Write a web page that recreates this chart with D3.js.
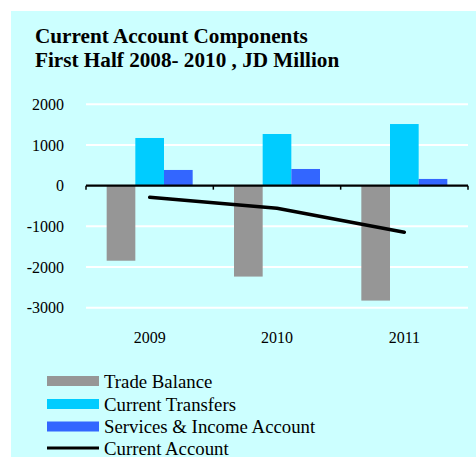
<!DOCTYPE html>
<html>
<head>
<meta charset="utf-8">
<script src="https://cdn.jsdelivr.net/npm/d3@7"></script>
<style>
  body { margin: 0; background: #fff; }
  svg text { font-family: "Liberation Serif", "Times New Roman", serif; }
</style>
</head>
<body>
<svg id="chart"></svg>
<script>
const years = ["2009", "2010", "2011"];
const tradeBalance = [-1845, -2235, -2825];
const currentTransfers = [1172, 1270, 1515];
const servicesIncome = [386, 410, 165];
const currentAccount = [-287, -555, -1145];
const yTicks = [2000, 1000, 0, -1000, -2000, -3000];

const seriesNames = ["Trade Balance", "Current Transfers", "Services & Income Account"];
const seriesColors = ["#969696", "#00CCFF", "#3366FF"];
const barSeries = [tradeBalance, currentTransfers, servicesIncome];

function drawChart(){
    const width = 476, height = 457;
    const svg = d3.select("#chart").attr("width", width).attr("height", height);
    svg.selectAll("*").remove();

    svg.append("rect")
        .attr("x", 11).attr("y", 11)
        .attr("width", width - 11).attr("height", height - 11)
        .attr("fill", "#CCFFFF");

    // title
    const title = svg.append("text")
        .attr("font-size", 21.2).attr("font-weight", "bold");
    title.append("tspan").attr("x", 35).attr("y", 43).text("Current Account Components");
    title.append("tspan").attr("x", 35).attr("y", 67).text("First Half 2008- 2010 , JD Million");

    const x = d3.scaleBand().domain(years).range([86, 468]);
    const y = d3.scaleLinear().domain([-3000, 2000]).range([307.7, 104.3]);
    const inner = d3.scaleBand().domain(d3.range(3)).range([0, 86]).padding(0);
    const groupOffset = (x.bandwidth() - 86) / 2;

    // gridlines
    svg.append("g")
        .selectAll("line")
        .data(yTicks.filter(d => d !== 0))
        .join("line")
        .attr("x1", 86).attr("x2", 468)
        .attr("y1", d => y(d)).attr("y2", d => y(d))
        .attr("stroke", "#fff").attr("stroke-width", 2);

    // y labels
    svg.append("g")
        .selectAll("text")
        .data(yTicks)
        .join("text")
        .attr("x", 64).attr("y", d => y(d))
        .attr("dy", "0.35em")
        .attr("text-anchor", "end")
        .attr("font-size", 16)
        .text(d => d);

    // bars
    svg.append("g")
        .selectAll("g")
        .data(barSeries)
        .join("g")
        .attr("fill", (d, i) => seriesColors[i])
        .each(function(vals, si){
            d3.select(this).selectAll("rect")
                .data(vals)
                .join("rect")
                .attr("x", (v, i) => x(years[i]) + groupOffset + inner(si))
                .attr("width", inner.bandwidth())
                .attr("y", v => y(Math.max(0, v)))
                .attr("height", v => Math.abs(y(v) - y(0)));
        });

    // zero axis
    const axis = svg.append("g");
    axis.append("line")
        .attr("x1", 86).attr("x2", 468)
        .attr("y1", y(0)).attr("y2", y(0))
        .attr("stroke", "#000").attr("stroke-width", 2.2);
    axis.selectAll("line.tick")
        .data([86, 86 + x.step(), 86 + 2 * x.step(), 468])
        .join("line")
        .attr("class", "tick")
        .attr("x1", d => d).attr("x2", d => d)
        .attr("y1", y(0)).attr("y2", y(0) + 4)
        .attr("stroke", "#000").attr("stroke-width", 1.5);

    // x labels
    svg.append("g")
        .selectAll("text")
        .data(years)
        .join("text")
        .attr("x", d => x(d) + x.bandwidth() / 2)
        .attr("y", 337).attr("dy", "0.35em")
        .attr("text-anchor", "middle")
        .attr("font-size", 16)
        .text(d => d);

    // current account line
    const line = d3.line()
        .x((d, i) => x(years[i]) + x.bandwidth() / 2)
        .y(d => y(d));
    svg.append("path")
        .datum(currentAccount)
        .attr("d", line)
        .attr("fill", "none")
        .attr("stroke", "#000")
        .attr("stroke-width", 3.5)
        .attr("stroke-linecap", "round")
        .attr("stroke-linejoin", "round");

    // legend
    const legendY = [381, 404, 426.5, 448];
    const legend = svg.append("g");
    seriesNames.forEach((name, i) => {
        legend.append("rect")
            .attr("x", 47).attr("y", legendY[i] - 5)
            .attr("width", 52).attr("height", 10)
            .attr("fill", seriesColors[i]);
        legend.append("text")
            .attr("x", 104).attr("y", legendY[i]).attr("dy", "0.35em")
            .attr("font-size", 18.8).text(name);
    });
    legend.append("line")
        .attr("x1", 47).attr("x2", 99)
        .attr("y1", legendY[3]).attr("y2", legendY[3])
        .attr("stroke", "#000").attr("stroke-width", 3);
    legend.append("text")
        .attr("x", 104).attr("y", legendY[3]).attr("dy", "0.35em")
        .attr("font-size", 18.8).text("Current Account");
}

drawChart();
</script>
</body>
</html>
